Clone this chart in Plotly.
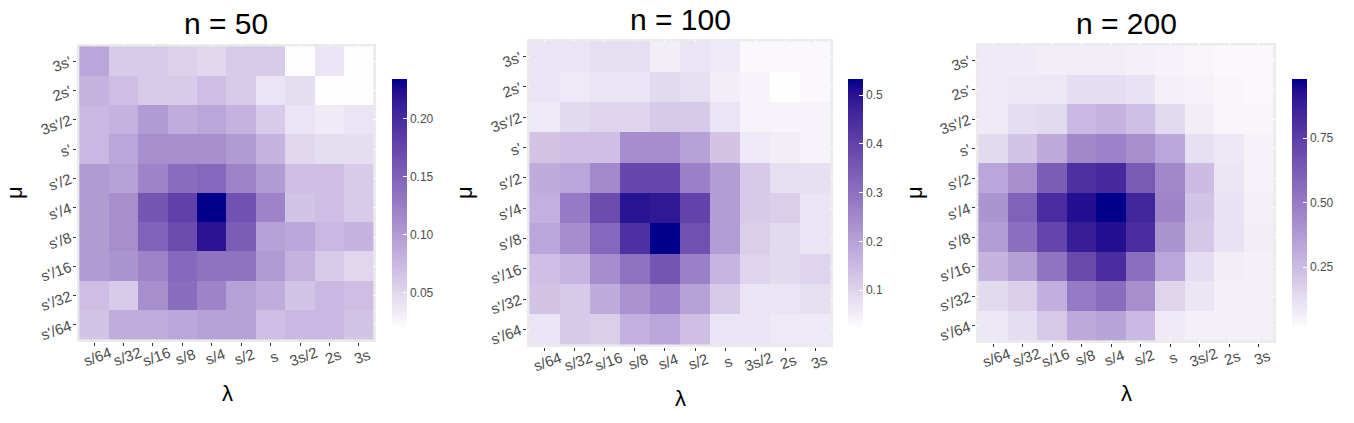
import plotly.graph_objects as go
import numpy as np

# ---------------- data ----------------
lam_labels = ["s/64", "s/32", "s/16", "s/8", "s/4", "s/2", "s", "3s/2", "2s", "3s"]
mu_labels_top_to_bottom = ["3s'", "2s'", "3s'/2", "s'", "s'/2", "s'/4", "s'/8", "s'/16", "s'/32", "s'/64"]
titles = ["n = 50", "n = 100", "n = 200"]

z_n50 = [
    [0.090, 0.060, 0.060, 0.055, 0.050, 0.060, 0.060, 0.020, 0.040, 0.020],
    [0.080, 0.070, 0.060, 0.060, 0.070, 0.060, 0.040, 0.045, 0.020, 0.020],
    [0.075, 0.080, 0.100, 0.085, 0.090, 0.080, 0.060, 0.040, 0.035, 0.040],
    [0.075, 0.090, 0.110, 0.110, 0.110, 0.100, 0.080, 0.050, 0.045, 0.045],
    [0.100, 0.095, 0.120, 0.140, 0.145, 0.120, 0.100, 0.070, 0.070, 0.060],
    [0.100, 0.110, 0.160, 0.180, 0.234, 0.165, 0.120, 0.065, 0.070, 0.060],
    [0.100, 0.110, 0.150, 0.170, 0.220, 0.155, 0.095, 0.090, 0.075, 0.080],
    [0.100, 0.105, 0.120, 0.145, 0.135, 0.135, 0.100, 0.080, 0.060, 0.050],
    [0.070, 0.060, 0.110, 0.140, 0.120, 0.095, 0.085, 0.065, 0.075, 0.070],
    [0.065, 0.085, 0.085, 0.090, 0.095, 0.095, 0.070, 0.075, 0.075, 0.065],
]
z_n100 = [
    [0.07, 0.07, 0.08, 0.08, 0.05, 0.07, 0.06, 0.03, 0.03, 0.03],
    [0.07, 0.06, 0.07, 0.07, 0.09, 0.08, 0.05, 0.04, 0.02, 0.03],
    [0.06, 0.09, 0.10, 0.10, 0.12, 0.12, 0.07, 0.04, 0.04, 0.04],
    [0.13, 0.14, 0.14, 0.24, 0.24, 0.20, 0.13, 0.06, 0.05, 0.04],
    [0.18, 0.19, 0.25, 0.39, 0.39, 0.27, 0.21, 0.12, 0.08, 0.08],
    [0.17, 0.28, 0.38, 0.50, 0.49, 0.40, 0.21, 0.12, 0.11, 0.07],
    [0.19, 0.24, 0.32, 0.44, 0.533, 0.37, 0.21, 0.11, 0.09, 0.07],
    [0.14, 0.16, 0.24, 0.30, 0.36, 0.27, 0.16, 0.10, 0.09, 0.10],
    [0.13, 0.12, 0.18, 0.23, 0.27, 0.20, 0.12, 0.07, 0.07, 0.08],
    [0.07, 0.12, 0.11, 0.17, 0.19, 0.14, 0.07, 0.07, 0.06, 0.06],
]
z_n200 = [
    [0.08, 0.08, 0.07, 0.07, 0.07, 0.06, 0.05, 0.04, 0.03, 0.03],
    [0.08, 0.09, 0.09, 0.13, 0.13, 0.11, 0.06, 0.05, 0.04, 0.03],
    [0.08, 0.13, 0.14, 0.26, 0.28, 0.24, 0.14, 0.07, 0.04, 0.04],
    [0.14, 0.22, 0.32, 0.45, 0.47, 0.42, 0.33, 0.12, 0.09, 0.05],
    [0.33, 0.42, 0.62, 0.80, 0.83, 0.63, 0.45, 0.25, 0.10, 0.05],
    [0.40, 0.60, 0.82, 0.93, 0.98, 0.85, 0.46, 0.22, 0.11, 0.06],
    [0.37, 0.55, 0.72, 0.88, 0.93, 0.82, 0.40, 0.21, 0.11, 0.07],
    [0.28, 0.36, 0.53, 0.70, 0.82, 0.55, 0.33, 0.13, 0.07, 0.06],
    [0.14, 0.18, 0.30, 0.50, 0.56, 0.42, 0.16, 0.10, 0.06, 0.06],
    [0.09, 0.13, 0.20, 0.32, 0.34, 0.26, 0.08, 0.06, 0.06, 0.06],
]
color_ranges = [(0.018, 0.234), (0.018, 0.533), (0.006, 0.98)]
cbar_ticks = [[0.05, 0.10, 0.15, 0.20], [0.1, 0.2, 0.3, 0.4, 0.5], [0.25, 0.50, 0.75]]
cbar_formats = [".2f", ".1f", ".2f"]

# ---------------- colour scale (Lab interpolation white -> darkblue) ----------------
def srgb_to_lin(c):
    c = c / 255.0
    return np.where(c <= 0.04045, c / 12.92, ((c + 0.055) / 1.055) ** 2.4)

def lin_to_srgb(c):
    c = np.clip(c, 0, 1)
    return np.where(c <= 0.0031308, 12.92 * c, 1.055 * c ** (1 / 2.4) - 0.055) * 255

M = np.array([[0.4124, 0.3576, 0.1805], [0.2126, 0.7152, 0.0722], [0.0193, 0.1192, 0.9505]])
Minv = np.linalg.inv(M)
WP = np.array([0.95047, 1.0, 1.08883])

def f(t):
    d = 6 / 29
    return np.where(t > d ** 3, np.cbrt(t), t / (3 * d * d) + 4 / 29)

def finv(t):
    d = 6 / 29
    return np.where(t > d, t ** 3, 3 * d * d * (t - 4 / 29))

def rgb_to_lab(rgb):
    xyz = M @ srgb_to_lin(np.array(rgb, float)) / WP
    fx, fy, fz = f(xyz)
    return np.array([116 * fy - 16, 500 * (fx - fy), 200 * (fy - fz)])

def lab_to_rgb(lab):
    L, a, b = lab
    fy = (L + 16) / 116
    fx = fy + a / 500
    fz = fy - b / 200
    xyz = np.array([finv(fx), finv(fy), finv(fz)]) * WP
    return lin_to_srgb(Minv @ xyz)

lo = rgb_to_lab([255, 255, 255])
hi = rgb_to_lab([0, 0, 139])
scale = []
for t in np.linspace(0, 1, 21):
    r, g, b = lab_to_rgb(lo + (hi - lo) * t)
    scale.append([float(t), f"rgb({int(round(r))},{int(round(g))},{int(round(b))})"])

# ---------------- layout geometry (pixels) ----------------
W, H = 1354, 423
panels = [  # x0, x1, y0(top), y1(bottom)
    (77, 376, 44, 342),
    (527, 833, 39, 347),
    (976, 1276, 43, 343),
]
cbars = [(392, 79, 251), (848, 79, 251), (1292, 79, 251)]
title_pos = [(226, 24), (680, 20), (1126, 24)]
xlab_pos = [(227, 393), (680, 398), (1126, 393)]
ylab_pos = [(14, 193), (464, 193), (914, 193)]

fig = go.Figure()
zs = [z_n50, z_n100, z_n200]
layout = dict(
    template="none",
    width=W, height=H, margin=dict(l=0, r=0, t=0, b=0, autoexpand=False),
    paper_bgcolor="white", plot_bgcolor="#EBEBEB",
    font=dict(family="Liberation Sans, Arial, sans-serif", color="#4D4D4D"),
    annotations=[],
)
for i in range(3):
    sfx = "" if i == 0 else str(i + 1)
    fig.add_trace(go.Heatmap(
        z=zs[i], x=lam_labels, y=mu_labels_top_to_bottom,
        coloraxis="coloraxis" + sfx, xaxis="x" + sfx, yaxis="y" + sfx,
        xgap=0, ygap=0, hoverinfo="skip",
    ))
    x0, x1, yt, yb = panels[i]
    common = dict(
        showgrid=True, gridcolor="white", gridwidth=1, zeroline=False,
        ticks="outside", ticklen=3, tickcolor="#333333", tickwidth=1,
        showline=False, type="category", fixedrange=True, automargin=False,
    )
    layout["xaxis" + sfx] = dict(
        common, domain=[x0 / W, x1 / W], range=[-0.58, 9.58],
        anchor="y" + sfx, categoryorder="array", categoryarray=lam_labels,
        showticklabels=False,
    )
    layout["yaxis" + sfx] = dict(
        common, domain=[1 - yb / H, 1 - yt / H], range=[9.58, -0.58],
        anchor="x" + sfx, categoryorder="array", categoryarray=mu_labels_top_to_bottom,
        tickangle=-20, tickfont=dict(size=15, color="#4D4D4D"),
    )
    # x tick labels, rotated about their centre (placed on the category axis)
    for lab in lam_labels:
        layout["annotations"].append(dict(
            text=lab, x=lab, xref="x" + sfx, y=1 - (yb + 14) / H, yref="paper",
            xanchor="center", yanchor="middle", showarrow=False, textangle=-20,
            font=dict(size=15, color="#4D4D4D"), xshift=3,
        ))
    cx, cy, cl = cbars[i]
    cmin, cmax = color_ranges[i]
    layout["coloraxis" + sfx] = dict(
        colorscale=scale, cmin=cmin, cmax=cmax,
        colorbar=dict(
            x=cx / W, xanchor="left", y=1 - cy / H, yanchor="top",
            lenmode="pixels", len=cl, thicknessmode="pixels", thickness=15,
            xpad=0, ypad=0, outlinewidth=0,
            ticks="inside", ticklen=4, tickcolor="white", tickwidth=1,
            tickvals=cbar_ticks[i], tickformat=cbar_formats[i],
            tickfont=dict(size=12, color="#4D4D4D"),
        ),
    )
    tx, ty = title_pos[i]
    layout["annotations"].append(dict(
        text=titles[i], x=tx / W, y=1 - ty / H, xref="paper", yref="paper",
        xanchor="center", yanchor="middle", showarrow=False,
        font=dict(size=30, color="black"),
    ))
    lx, ly = xlab_pos[i]
    layout["annotations"].append(dict(
        text="λ", x=lx / W, y=1 - ly / H, xref="paper", yref="paper",
        xanchor="center", yanchor="middle", showarrow=False,
        font=dict(size=22, color="black"),
    ))
    mx, my = ylab_pos[i]
    layout["annotations"].append(dict(
        text="μ", x=mx / W, y=1 - my / H, xref="paper", yref="paper",
        xanchor="center", yanchor="middle", showarrow=False, textangle=-90,
        font=dict(size=22, color="black"),
    ))

fig.update_layout(**layout)
fig.write_html("out.html")
